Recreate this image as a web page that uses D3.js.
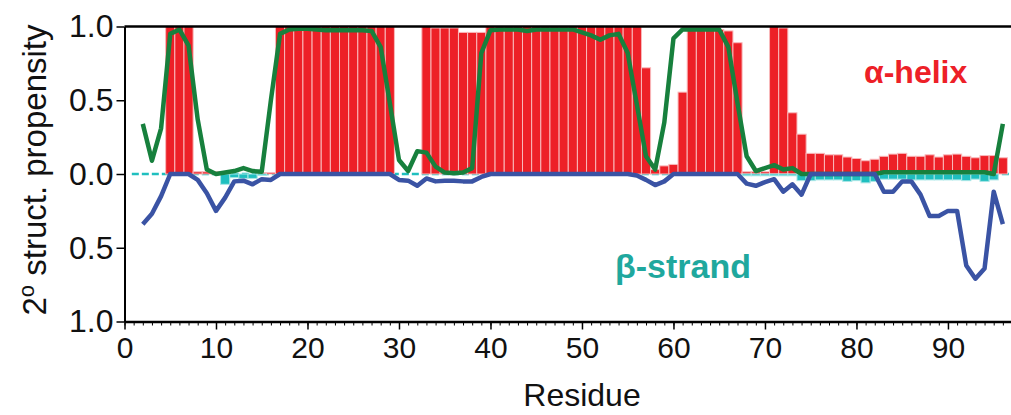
<!DOCTYPE html>
<html>
<head>
<meta charset="utf-8">
<script src="https://cdn.jsdelivr.net/npm/d3@7"></script>
<style>
  html, body { margin: 0; padding: 0; background: #fff; }
  svg { display: block; }
  text { font-family: "Liberation Sans", Arial, Helvetica, sans-serif; }
</style>
</head>
<body>
<svg id="chart" width="1011" height="415"></svg>
<script>
// Residue numbers
const residues = d3.range(2, 97);

// Helix propensity per residue (red bars, drawn upward)
const helixBars = [
  0, 0, 0, 1, 1, 1, 0.015, 0.015, 0.015, 0, 0, 0, 0, 0.01, 0.01,          // 2-16
  1, 1, 1, 1, 1, 1, 1, 1, 1, 1, 1, 1, 1,                                   // 17-29
  0, 0, 0,                                                                 // 30-32
  1, 0.99, 0.99, 0.99, 0.96, 0.96, 0.96,                                   // 33-39
  1, 1, 1, 1, 1, 1, 1, 1, 1, 1, 1, 1, 1, 1, 1, 1, 1,                       // 40-56
  0.72, 0.03, 0.055, 0.065, 0.555,                                         // 57-61
  0.98, 0.98, 0.98, 0.98, 0.97, 0.89,                                      // 62-67
  0.015, 0.015, 0.015,                                                     // 68-70
  1, 0.99, 0.415, 0.27, 0.14, 0.14, 0.13, 0.13, 0.115, 0.105,              // 71-80
  0.09, 0.10, 0.12, 0.135, 0.14, 0.12, 0.12, 0.13, 0.115, 0.13,            // 81-90
  0.135, 0.12, 0.11, 0.125, 0.125, 0.11                                    // 91-96
];

// Strand propensity per residue (cyan bars, drawn downward)
const strandBars = [
  0, 0, 0, 0, 0, 0, 0, 0, 0, 0.07, 0.025, 0.03, 0.03, 0.01, 0,             // 2-16
  0, 0, 0, 0, 0, 0, 0, 0, 0, 0, 0, 0, 0, 0, 0, 0, 0, 0, 0, 0, 0, 0, 0,     // 17-39
  0, 0, 0, 0, 0, 0, 0, 0, 0, 0, 0, 0, 0, 0, 0, 0, 0, 0, 0, 0, 0, 0, 0,     // 40-62
  0, 0, 0, 0, 0,                                                           // 63-67
  0.012, 0.012, 0.012, 0.012, 0.012, 0.012,                                // 68-73
  0.045, 0.045, 0.04, 0.04, 0.04, 0.05, 0.045, 0.06, 0.05,                 // 74-82
  0.035, 0.035, 0.035, 0.04, 0.04, 0.04, 0.04, 0.04, 0.04, 0.045,          // 83-92
  0.035, 0.05, 0.04, 0                                                     // 93-96
];

// Smoothed helix propensity (green line)
const helixLine = [
  0.34, 0.09, 0.31, 0.95, 0.98, 0.87, 0.37, 0.03, 0.0, 0.01,               // 2-11
  0.02, 0.04, 0.02, 0.015, 0.5,                                            // 12-16
  0.95, 0.98, 0.985, 0.985, 0.98, 0.975, 0.975, 0.975, 0.975, 0.975,       // 17-26
  0.97, 0.86, 0.48, 0.095, 0.02, 0.155, 0.145, 0.05, 0.01, 0.005,          // 27-36
  0.01, 0.04, 0.82, 0.975, 0.98, 0.98, 0.98, 0.97, 0.98, 0.98,             // 37-46
  0.98, 0.98, 0.98, 0.96, 0.94, 0.91, 0.94, 0.95, 0.82, 0.47,              // 47-56
  0.12, 0.03, 0.35, 0.92, 0.98, 0.98, 0.98, 0.98, 0.98, 0.86,              // 57-66
  0.48, 0.12, 0.02, 0.04, 0.06, 0.03, 0.04, 0.0, 0, 0,                     // 67-76
  0, 0, 0, 0, 0, 0, 0.012, 0.012, 0.012, 0.012,                            // 77-86
  0.012, 0.012, 0.012, 0.012, 0.012, 0.012, 0.012, 0.012, 0.0, 0.34        // 87-96
];

// Smoothed strand propensity (blue line, drawn downward)
const strandLine = [
  0.34, 0.27, 0.15, 0, 0, 0, 0.04, 0.13, 0.25, 0.16,                       // 2-11
  0.05, 0.045, 0.07, 0.035, 0.04,                                          // 12-16
  0, 0, 0, 0, 0, 0, 0, 0, 0, 0, 0, 0, 0,                                   // 17-29
  0.04, 0.045, 0.08, 0.03, 0.05, 0.045, 0.045, 0.05, 0.05, 0.02,           // 30-39
  0, 0, 0, 0, 0, 0, 0, 0, 0, 0, 0, 0, 0, 0, 0, 0,                          // 40-55
  0.01, 0.04, 0.075, 0.05,                                                 // 56-59
  0, 0, 0, 0, 0, 0, 0, 0,                                                  // 60-67
  0.065, 0.08, 0.055, 0.035, 0.12, 0.07, 0.14,                             // 68-74
  0, 0, 0, 0, 0, 0, 0, 0,                                                  // 75-82
  0.12, 0.12, 0.05, 0.05, 0.14, 0.285, 0.285, 0.25, 0.25,                  // 83-91
  0.62, 0.71, 0.64, 0.12, 0.34                                             // 92-96
];

const xMajorTicks = d3.range(0, 91, 10);
const xMinorTicks = d3.range(0, 98, 1);
const yTicks = [-1, -0.5, 0, 0.5, 1];

const svg = d3.select("#chart");

const x = d3.scaleLinear().domain([0, 97]).range([124.5, 1012]);
const y = d3.scaleLinear().domain([-1, 1]).range([321.5, 26.5]);
const step = x(1) - x(0);

const colors = {
  helix: "#ED2027",
  helixEdge: "#F9B9BB",
  strand: "#1FBFBF",
  green: "#17803D",
  blue: "#3A53A4",
  strandText: "#1FA89E"
};

// Zero reference line
svg.append("line")
  .attr("x1", x(0.8)).attr("x2", x(97))
  .attr("y1", y(0)).attr("y2", y(0))
  .attr("stroke", colors.strand)
  .attr("stroke-width", 2.5)
  .attr("stroke-dasharray", "7,3");

// Helix bars
svg.append("g").selectAll("rect")
  .data(residues.map((r, i) => ({ r, v: helixBars[i] })).filter(d => d.v > 0))
  .join("rect")
  .attr("x", d => x(d.r - 0.5))
  .attr("width", step)
  .attr("y", d => y(d.v))
  .attr("height", d => y(0) - y(d.v))
  .attr("fill", colors.helix)
  .attr("stroke", colors.helixEdge)
  .attr("stroke-width", 1);

// Strand bars
svg.append("g").selectAll("rect")
  .data(residues.map((r, i) => ({ r, v: strandBars[i] })).filter(d => d.v > 0))
  .join("rect")
  .attr("x", d => x(d.r - 0.5))
  .attr("width", step)
  .attr("y", y(0))
  .attr("height", d => y(-d.v) - y(0))
  .attr("fill", colors.strand)
  .attr("stroke", "#a9e6e6")
  .attr("stroke-width", 1);

// Propensity lines
const helixPath = d3.line().x((d, i) => x(residues[i])).y(d => y(d));
const strandPath = d3.line().x((d, i) => x(residues[i])).y(d => y(-d));

svg.append("path")
  .datum(helixLine)
  .attr("d", helixPath)
  .attr("fill", "none")
  .attr("stroke", colors.green)
  .attr("stroke-width", 4.5)
  .attr("stroke-linejoin", "round");

svg.append("path")
  .datum(strandLine)
  .attr("d", strandPath)
  .attr("fill", "none")
  .attr("stroke", colors.blue)
  .attr("stroke-width", 4.5)
  .attr("stroke-linejoin", "round");

// Top frame line
svg.append("line")
  .attr("x1", x(0)).attr("x2", x(97))
  .attr("y1", y(1)).attr("y2", y(1))
  .attr("stroke", "#000")
  .attr("stroke-width", 2.5);

// Axes
const yAxis = svg.append("g")
  .attr("transform", `translate(${x(0)},0)`)
  .call(d3.axisLeft(y).tickValues(yTicks)
    .tickFormat(d => Math.abs(d).toFixed(1))
    .tickSize(8).tickSizeOuter(0).tickPadding(3));
yAxis.select(".domain").attr("stroke-width", 2);
yAxis.selectAll(".tick line").attr("stroke-width", 1.5);
yAxis.selectAll(".tick text")
  .attr("font-size", 32)
  .attr("fill", "#111")
  .attr("font-family", "'Liberation Sans', Arial, sans-serif");

const xMinor = svg.append("g")
  .attr("transform", `translate(0,${y(-1)})`)
  .call(d3.axisBottom(x).tickValues(xMinorTicks).tickFormat("").tickSize(4).tickSizeOuter(0));
xMinor.selectAll(".tick line").attr("stroke-width", 1);
xMinor.select(".domain").attr("stroke-width", 2.5);

const xAxis = svg.append("g")
  .attr("transform", `translate(0,${y(-1)})`)
  .call(d3.axisBottom(x).tickValues(xMajorTicks).tickSize(8).tickSizeOuter(0).tickPadding(7));
xAxis.select(".domain").remove();
xAxis.selectAll(".tick line").attr("stroke-width", 1.5);
xAxis.selectAll(".tick text")
  .attr("font-size", 30)
  .attr("fill", "#111")
  .attr("font-family", "'Liberation Sans', Arial, sans-serif");

// Axis titles
svg.append("text")
  .attr("x", x(50))
  .attr("y", 406)
  .attr("text-anchor", "middle")
  .attr("font-size", 32)
  .attr("fill", "#111")
  .text("Residue");

const yTitle = svg.append("text")
  .attr("transform", "translate(46,170) rotate(-90)")
  .attr("text-anchor", "middle")
  .attr("font-size", 33)
  .attr("fill", "#111");
yTitle.append("tspan").text("2");
yTitle.append("tspan").attr("font-size", 22).attr("dy", -12).text("o");
yTitle.append("tspan").attr("dy", 12).text(" struct. propensity");

// Series labels
svg.append("text")
  .attr("x", 864)
  .attr("y", 83)
  .attr("font-size", 32)
  .attr("font-weight", "bold")
  .attr("fill", colors.helix)
  .text("α-helix");

svg.append("text")
  .attr("x", 683)
  .attr("y", 278)
  .attr("text-anchor", "middle")
  .attr("font-size", 34)
  .attr("font-weight", "bold")
  .attr("fill", colors.strandText)
  .text("β-strand");
</script>
</body>
</html>
